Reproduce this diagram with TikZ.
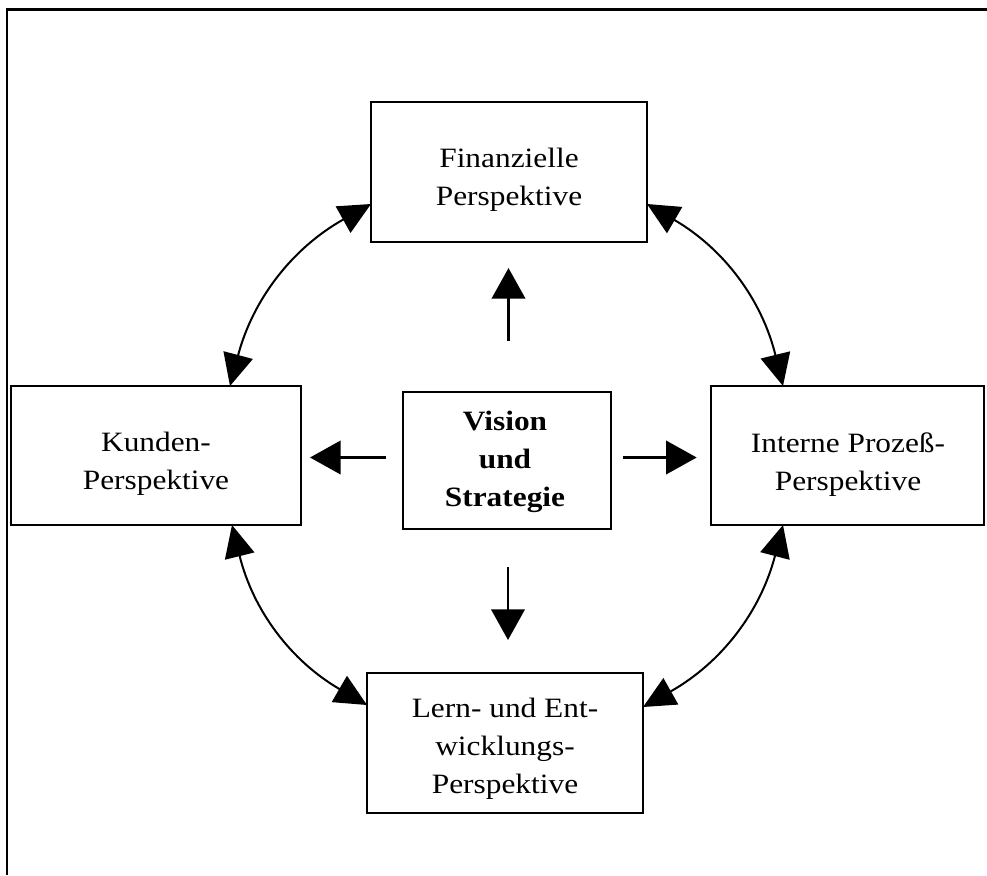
\documentclass[tikz,border=0pt]{standalone}
\usepackage{fontspec}
\setmainfont{Liberation Serif}[FakeStretch=1.12]
\usetikzlibrary{arrows.meta,calc,fit}
\begin{document}
\begin{tikzpicture}[x=0.75pt,y=-0.75pt,
  box/.style={draw, line width=1.5pt, inner sep=0pt, outer sep=0pt, rectangle},
  lbl/.style={align=center, anchor=base, inner sep=0pt, font=\fontsize{21}{28.5}\selectfont},
  pushes/.style={line width=2.2pt, -{Triangle[length=23pt,width=25pt]}},
  links/.style={line width=1.5pt, {Triangle[length=24pt,width=22.5pt]}-{Triangle[length=24pt,width=22.5pt]}},
  frame/.style={line width=2.2pt, line join=miter}]
\useasboundingbox (0,0) rectangle (987,875);

% outer frame (top and left edges)
\draw[frame] (7,875) -- (7,9.7) -- (987,9.7);

% boxes
\node[box, fit={(371,102) (647,242)}] (fin) {};
\node[box, fit={(11,386) (301,525)}] (kun) {};
\node[box, fit={(403,392) (611,529)}] (vis) {};
\node[box, fit={(711,386) (984,525)}] (int) {};
\node[box, fit={(367,673) (643,813)}] (lern) {};

% labels (anchored at the baseline of their last line)
\node[lbl] (fintxt) at (509,205) {Finanzielle\\Perspektive};
\node[lbl] (kuntxt) at (156,489) {Kunden-\\Perspektive};
\node[lbl, font=\fontsize{21}{28.5}\selectfont\bfseries] (vistxt) at (505,506.7) {Vision\\und\\Strategie};
\node[lbl] (inttxt) at (848,490) {Interne Prozeß-\\Perspektive};
\node[lbl] (lerntxt) at (505,793) {Lern- und Ent-\\wicklungs-\\Perspektive};

% arrows from the centre
\draw[pushes] ($(vis.north)+(1.5,-51)$) -- ($(fin.south)+(-0.5,26)$);
\draw[pushes] ($(vis.south)+(1,38)$) -- ($(lern.north)+(3,-33)$);
\draw[pushes] ($(vis.west)+(-17.3,-3)$) -- ($(kun.east)+(9,2)$);
\draw[pushes] ($(vis.east)+(11.7,-3)$) -- ($(int.west)+(-14.3,2)$);

% curved two-way links between the perspectives
\draw[links] ($(fin.west)+(0,32)$) to[bend right=23] ($(kun.north)+(74,0)$);
\draw[links] ($(fin.east)+(0,32)$) to[bend left=23] ($(int.north)+(-64.5,0)$);
\draw[links] ($(kun.south)+(76,0)$) to[bend right=23] ($(lern.west)+(0,-38)$);
\draw[links] ($(int.south)+(-64.5,0)$) to[bend left=23] ($(lern.east)+(0,-36)$);
\end{tikzpicture}
\end{document}
